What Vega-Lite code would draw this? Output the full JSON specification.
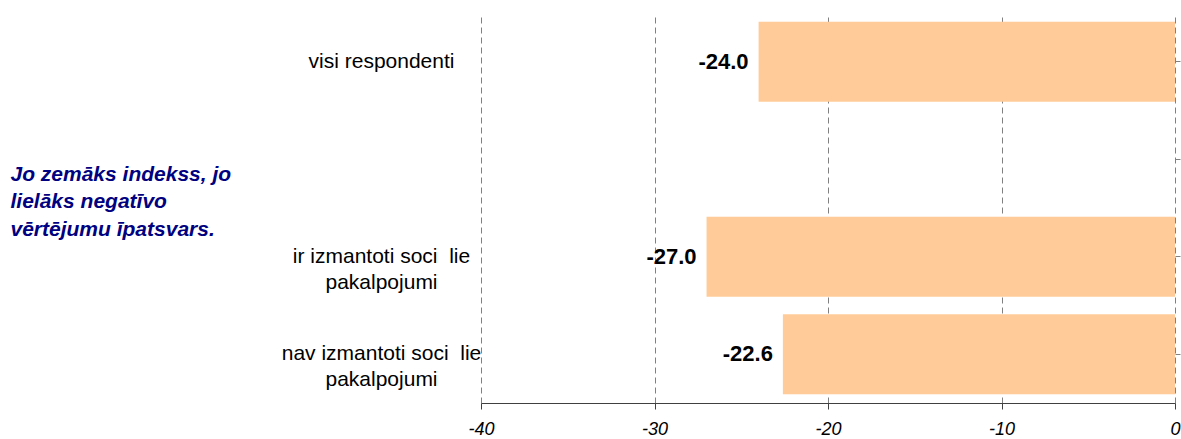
{
  "$schema": "https://vega.github.io/schema/vega-lite/v6.json",
  "width": 694,
  "height": 390,
  "autosize": "none",
  "padding": {"left": 481, "top": 13, "right": 6, "bottom": 36},
  "background": "white",
  "config": {
    "view": {"stroke": null},
    "font": "Liberation Sans",
    "locale": {"number": {"decimal": ".", "thousands": ",", "grouping": [3], "currency": ["$", ""], "minus": "-"}}
  },
  "data": {
    "values": [
      {"cat": "visi respondenti", "value": -24.0},
      {"cat": "ir izmantoti soci\u00a0 lie|pakalpojumi", "value": -27.0},
      {"cat": "nav izmantoti soci\u00a0 lie|pakalpojumi", "value": -22.6}
    ]
  },
  "encoding": {
    "y": {
      "field": "cat",
      "type": "nominal",
      "scale": {
        "domain": ["visi respondenti", "_gap", "ir izmantoti soci\u00a0 lie|pakalpojumi", "nav izmantoti soci\u00a0 lie|pakalpojumi"],
        "paddingInner": 0.18,
        "paddingOuter": 0.09
      }
    },
    "x": {
      "field": "value",
      "type": "quantitative",
      "scale": {"domain": [-40, 0], "nice": false, "zero": false},
      "axis": {
        "values": [-40, -30, -20, -10, 0],
        "format": "d",
        "title": null,
        "grid": true,
        "gridDash": [6, 4],
        "gridColor": "#808080",
        "gridWidth": 1,
        "domainColor": "#404040",
        "domainWidth": 1.2,
        "tickColor": "#404040",
        "tickSize": 6,
        "labelFont": "Liberation Sans",
        "labelFontSize": 18,
        "labelFontStyle": "italic",
        "labelColor": "#000000",
        "labelPadding": 11,
        "labelFlush": false
      }
    }
  },
  "layer": [
    {
      "mark": {"type": "bar", "color": "#FFCC99"},
      "encoding": {
        "y": {
          "field": "cat",
          "type": "nominal",
          "axis": {
            "orient": "left",
            "domain": false,
            "ticks": false,
            "grid": false,
            "labelExpr": "datum.value == '_gap' ? '' : split(datum.value, '|')",
            "labelAlign": "center",
            "labelBaseline": "middle",
            "labelPadding": 100,
            "labelFont": "Liberation Sans",
            "labelFontSize": 21,
            "labelLineHeight": 26,
            "labelColor": "#000000",
            "labelLimit": 400,
            "title": ["Jo zemāks indekss, jo", "lielāks negatīvo", "vērtējumu īpatsvars."],
            "titleAngle": 0,
            "titleAlign": "left",
            "titleBaseline": "top",
            "titleX": -471,
            "titleY": 150,
            "titleFont": "Liberation Sans",
            "titleFontSize": 21,
            "titleFontWeight": "bold",
            "titleFontStyle": "italic",
            "titleColor": "#000080",
            "titleLineHeight": 27.5,
            "titleLimit": 400
          }
        }
      }
    },
    {
      "mark": {"type": "text", "align": "right", "baseline": "middle", "dx": -10, "font": "Liberation Sans", "fontSize": 22, "fontWeight": "bold", "color": "#000000"},
      "encoding": {
        "y": {
          "field": "cat",
          "type": "nominal",
          "axis": {
            "orient": "right",
            "domain": false,
            "labels": false,
            "ticks": true,
            "tickSize": 5,
            "tickColor": "#808080",
            "grid": false,
            "title": null
          }
        },
        "text": {"field": "value", "type": "quantitative", "format": ".1f"}
      }
    }
  ],
  "resolve": {"axis": {"y": "independent"}}
}
